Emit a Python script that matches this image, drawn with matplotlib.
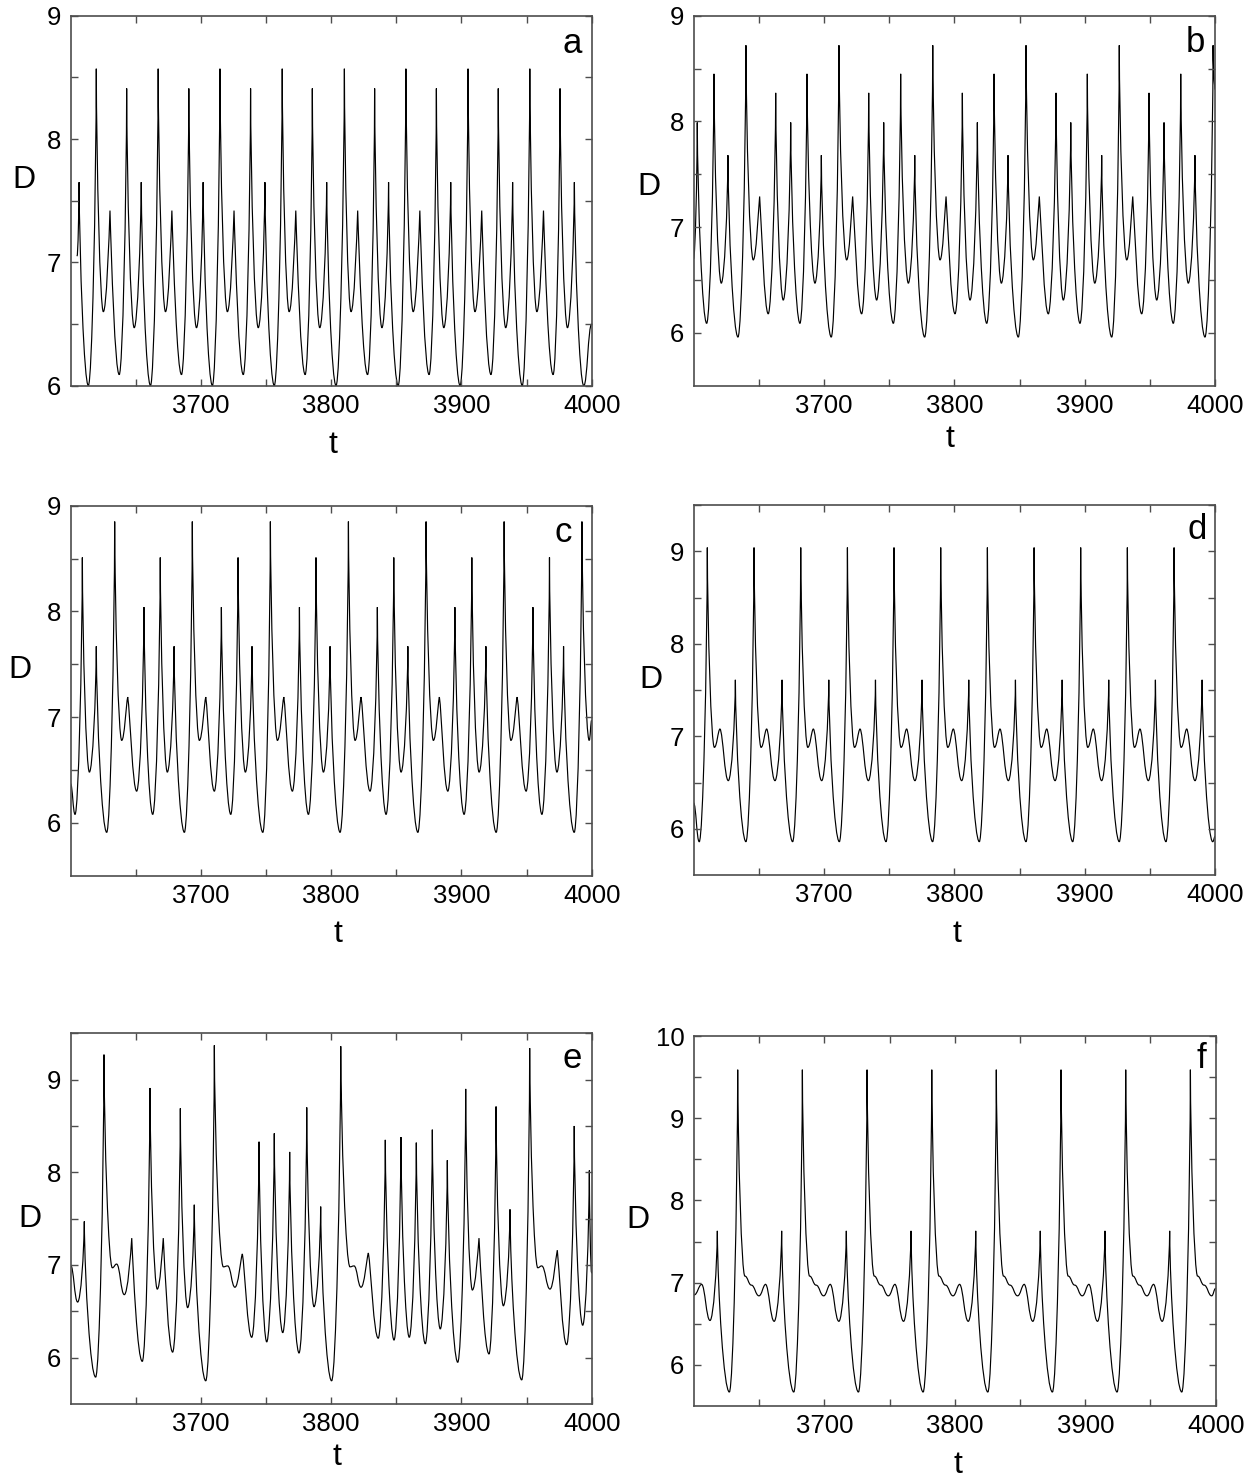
import numpy as np
import matplotlib
matplotlib.use('Agg')
from matplotlib import pyplot as plt
from matplotlib.path import Path
from matplotlib.patches import PathPatch
from matplotlib.ticker import FixedLocator

plt.rcParams['font.family'] = ['Liberation Sans', 'DejaVu Sans']

# turning points (t, D)
t_a = [3605.0, 3606.6, 3613.7, 3619.8, 3625.2, 3630.3, 3637.4, 3643.1, 3648.9, 3654.3,
       3661.4, 3667.3, 3672.9, 3677.8, 3685.2, 3690.8, 3696.7, 3701.8, 3708.9, 3714.7,
       3720.4, 3725.5, 3732.6, 3738.2, 3744.1, 3749.2, 3756.4, 3762.5, 3767.8, 3772.9,
       3780.1, 3785.6, 3791.3, 3796.6, 3803.8, 3810.2, 3815.3, 3820.4, 3828.0, 3833.4,
       3839.0, 3844.1, 3851.5, 3857.4, 3863.0, 3868.1, 3875.2, 3880.8, 3886.5, 3891.8,
       3899.0, 3905.1, 3910.4, 3915.6, 3922.7, 3928.3, 3934.0, 3939.3, 3946.7, 3952.5,
       3957.9, 3963.0, 3970.4, 3975.7, 3981.4, 3986.7, 3993.9, 4000.0]
D_a = [7.05,
       7.65, 6.0, 8.57, 6.6, 7.42, 6.09, 8.41, 6.47,
       7.65, 6.0, 8.57, 6.6, 7.42, 6.09, 8.41, 6.47,
       7.65, 6.0, 8.57, 6.6, 7.42, 6.09, 8.41, 6.47,
       7.65, 6.0, 8.57, 6.6, 7.42, 6.09, 8.41, 6.47,
       7.65, 6.0, 8.57, 6.6, 7.42, 6.09, 8.41, 6.47,
       7.65, 6.0, 8.57, 6.6, 7.42, 6.09, 8.41, 6.47,
       7.65, 6.0, 8.57, 6.6, 7.42, 6.09, 8.41, 6.47,
       7.65, 6.0, 8.57, 6.6, 7.42, 6.09, 8.41, 6.47,
       7.65, 6.0, 6.5]

t_b = [3600.0, 3602.9, 3610.1, 3615.7, 3621.3, 3626.4, 3634.1, 3640.2, 3645.8, 3650.7,
       3657.3, 3663.0, 3668.8, 3674.5, 3681.6, 3687.0, 3693.1, 3698.0, 3705.6, 3711.5,
       3717.4, 3722.0, 3728.9, 3734.3, 3740.4, 3745.8, 3753.2, 3758.8, 3764.7, 3769.6,
       3777.2, 3783.4, 3789.0, 3793.6, 3800.5, 3806.1, 3812.0, 3817.6, 3824.8, 3830.4,
       3836.0, 3841.1, 3849.0, 3854.9, 3860.5, 3865.1, 3872.0, 3877.9, 3883.5, 3889.2,
       3896.3, 3901.9, 3907.6, 3912.9, 3920.6, 3926.4, 3932.1, 3936.7, 3943.6, 3949.2,
       3955.1, 3960.7, 3967.8, 3973.5, 3979.3, 3984.4, 3992.1, 3998.3, 4000.0]
D_b = [6.7,
       7.99, 6.09, 8.45, 6.47, 7.68, 5.96, 8.72, 6.69, 7.29, 6.18, 8.27, 6.31,
       7.99, 6.09, 8.45, 6.47, 7.68, 5.96, 8.72, 6.69, 7.29, 6.18, 8.27, 6.31,
       7.99, 6.09, 8.45, 6.47, 7.68, 5.96, 8.72, 6.69, 7.29, 6.18, 8.27, 6.31,
       7.99, 6.09, 8.45, 6.47, 7.68, 5.96, 8.72, 6.69, 7.29, 6.18, 8.27, 6.31,
       7.99, 6.09, 8.45, 6.47, 7.68, 5.96, 8.72, 6.69, 7.29, 6.18, 8.27, 6.31,
       7.99, 6.09, 8.45, 6.47, 7.68, 5.96, 8.72,
       8.3]

t_c = [3600.0, 3603.5, 3609.1, 3614.5, 3619.8, 3627.8, 3633.9, 3639.3, 3643.9, 3650.8,
       3656.4, 3663.1, 3668.9, 3674.3, 3679.5, 3687.4, 3693.5, 3698.9, 3703.8, 3710.4,
       3715.8, 3723.0, 3728.6, 3734.2, 3739.3, 3747.6, 3753.4, 3758.8, 3763.7, 3770.3,
       3775.7, 3782.6, 3788.4, 3794.1, 3799.2, 3806.9, 3813.3, 3818.4, 3823.0, 3829.9,
       3835.5, 3842.2, 3848.1, 3853.7, 3858.9, 3866.6, 3872.9, 3878.5, 3883.1, 3889.6,
       3895.0, 3902.1, 3908.0, 3913.6, 3918.8, 3926.7, 3932.8, 3938.0, 3942.8, 3949.7,
       3954.9, 3961.8, 3967.6, 3973.3, 3978.4, 3986.6, 3992.5, 3998.1, 4000.0]
D_c = [6.37, 6.08,
       8.51, 6.48, 7.67, 5.91, 8.85, 6.78, 7.19, 6.30, 8.04, 6.08,
       8.51, 6.48, 7.67, 5.91, 8.85, 6.78, 7.19, 6.30, 8.04, 6.08,
       8.51, 6.48, 7.67, 5.91, 8.85, 6.78, 7.19, 6.30, 8.04, 6.08,
       8.51, 6.48, 7.67, 5.91, 8.85, 6.78, 7.19, 6.30, 8.04, 6.08,
       8.51, 6.48, 7.67, 5.91, 8.85, 6.78, 7.19, 6.30, 8.04, 6.08,
       8.51, 6.48, 7.67, 5.91, 8.85, 6.78, 7.19, 6.30, 8.04, 6.08,
       8.51, 6.48, 7.67, 5.91, 8.85, 6.78,
       6.97]

t_d = [3600.0,
       3604.4, 3610.6, 3616.0, 3620.3, 3626.7, 3632.1,
       3640.2, 3646.4, 3651.8, 3656.1, 3662.5, 3667.9,
       3676.0, 3682.2, 3687.6, 3691.9, 3698.3, 3703.7,
       3711.8, 3718.0, 3723.4, 3727.7, 3734.1, 3739.5,
       3747.6, 3753.7, 3759.1, 3763.4, 3769.8, 3775.2,
       3783.3, 3789.5, 3794.9, 3799.2, 3805.6, 3811.0,
       3819.1, 3825.3, 3830.7, 3835.0, 3841.4, 3846.8,
       3854.9, 3861.1, 3866.5, 3870.8, 3877.2, 3882.6,
       3890.7, 3896.8, 3902.2, 3906.5, 3912.9, 3918.3,
       3926.4, 3932.6, 3938.0, 3942.3, 3948.7, 3954.1,
       3962.2, 3968.4, 3973.8, 3978.1, 3984.5, 3989.9,
       3998.0, 4000.0]
D_d = [6.28,
       5.86, 9.04, 6.88, 7.08, 6.52, 7.61,
       5.86, 9.04, 6.88, 7.08, 6.52, 7.61,
       5.86, 9.04, 6.88, 7.08, 6.52, 7.61,
       5.86, 9.04, 6.88, 7.08, 6.52, 7.61,
       5.86, 9.04, 6.88, 7.08, 6.52, 7.61,
       5.86, 9.04, 6.88, 7.08, 6.52, 7.61,
       5.86, 9.04, 6.88, 7.08, 6.52, 7.61,
       5.86, 9.04, 6.88, 7.08, 6.52, 7.61,
       5.86, 9.04, 6.88, 7.08, 6.52, 7.61,
       5.86, 9.04, 6.88, 7.08, 6.52, 7.61,
       5.86, 9.04, 6.88, 7.08, 6.52, 7.61,
       5.86, 5.92]

t_e = [3600.0, 3605.5, 3610.6, 3619.3, 3625.7, 3632.1, 3635.4, 3641.3, 3647.0, 3655.1,
       3661.0, 3666.6, 3671.2, 3678.4, 3684.3, 3689.9, 3695.0, 3703.8, 3710.4, 3717.3,
       3720.6, 3726.2, 3731.9, 3739.1, 3744.7, 3750.6, 3756.4, 3762.9, 3768.2, 3775.4,
       3781.3, 3786.9, 3792.0, 3800.4, 3807.4, 3814.5, 3817.6, 3823.0, 3828.6, 3836.2,
       3841.6, 3848.3, 3853.6, 3860.0, 3865.4, 3872.3, 3877.7, 3883.8, 3889.2, 3897.2,
       3903.3, 3908.4, 3913.5, 3921.2, 3926.6, 3932.2, 3937.3, 3946.3, 3952.4, 3958.6,
       3961.6, 3968.0, 3973.6, 3980.8, 3986.6, 3993.1, 3998.2, 4000.0]
D_e = [7.00, 6.60, 7.47, 5.79, 9.27, 6.97, 7.01, 6.68, 7.29, 5.96,
       8.91, 6.74, 7.29, 6.06, 8.69, 6.54, 7.65, 5.75, 9.37, 6.98,
       6.99, 6.76, 7.12, 6.22, 8.33, 6.17, 8.42, 6.27, 8.22, 6.05,
       8.70, 6.55, 7.63, 5.75, 9.36, 6.98, 6.99, 6.76, 7.13, 6.21,
       8.35, 6.19, 8.38, 6.22, 8.32, 6.15, 8.46, 6.31, 8.13, 5.95,
       8.90, 6.73, 7.29, 6.04, 8.71, 6.56, 7.60, 5.76, 9.34, 6.97,
       6.99, 6.74, 7.16, 6.14, 8.50, 6.35, 8.02, 6.91]

t_f = [3600.0, 3605.9, 3612.3, 3617.9, 3627.1, 3633.5,
       3639.0, 3644.0, 3649.8, 3654.9, 3661.5, 3667.2, 3676.5, 3683.1,
       3688.6, 3693.6, 3699.4, 3704.5, 3711.1, 3716.8, 3726.1, 3732.7,
       3738.2, 3743.2, 3749.0, 3754.1, 3760.7, 3766.4, 3775.7, 3782.3,
       3787.8, 3792.8, 3798.6, 3803.7, 3810.3, 3816.0, 3825.3, 3831.8,
       3837.3, 3842.3, 3848.1, 3853.2, 3859.8, 3865.5, 3874.8, 3881.4,
       3886.9, 3891.9, 3897.7, 3902.8, 3909.4, 3915.1, 3924.4, 3931.0,
       3936.5, 3941.5, 3947.3, 3952.4, 3959.0, 3964.7, 3974.0, 3980.6,
       3986.1, 3991.1, 3996.9, 4000.0]
D_f = [6.85, 6.98, 6.54, 7.63, 5.67, 9.59,
       7.08, 6.97, 6.84, 6.98, 6.53, 7.63, 5.67, 9.59,
       7.08, 6.97, 6.84, 6.98, 6.53, 7.63, 5.67, 9.59,
       7.08, 6.97, 6.84, 6.98, 6.53, 7.63, 5.67, 9.59,
       7.08, 6.97, 6.84, 6.98, 6.53, 7.63, 5.67, 9.59,
       7.08, 6.97, 6.84, 6.98, 6.53, 7.63, 5.67, 9.59,
       7.08, 6.97, 6.84, 6.98, 6.53, 7.63, 5.67, 9.59,
       7.08, 6.97, 6.84, 6.98, 6.53, 7.63, 5.67, 9.59,
       7.08, 6.97, 6.84, 6.93]

panel_labels = ['a', 'b', 'c', 'd', 'e', 'f']
x_ticks = [3700, 3800, 3900, 4000]
x_minor = [3650, 3750, 3850, 3950]
y_limits = [(6, 9), (5.5, 9), (5.5, 9), (5.5, 9.5), (5.5, 9.5), (5.5, 10)]
y_ticks = [[6, 7, 8, 9], [6, 7, 8, 9], [6, 7, 8, 9], [6, 7, 8, 9], [6, 7, 8, 9], [6, 7, 8, 9, 10]]


def sharpness(d, i):
    # how spiky a local maximum is (0 = round bump, 1 = narrow spike)
    if i == 0 or i == len(d) - 1:
        return 0.0
    if d[i] < d[i-1] or d[i] < d[i+1]:
        return 0.0
    amp = d[i] - min(d[i-1], d[i+1])
    return float(np.clip((amp - 0.3) / 1.4, 0, 1))


def trace(t, d):
    r'''
Build a bezier path through the turning points: round troughs, sharp spikes
    '''
    assert len(t) == len(d)
    s = [sharpness(d, i) for i in range(len(d))]
    verts = [(t[0], d[0])]
    codes = [Path.MOVETO]
    for i in range(len(t) - 1):
        t0, d0, t1, d1 = t[i], d[i], t[i+1], d[i+1]
        dt, dy = t1 - t0, d1 - d0
        r0 = 0.45 * (1 - s[i]) + 0.04 * s[i]
        r1 = 0.45 * (1 - s[i+1]) + 0.04 * s[i+1]
        c1 = (t0 + r0 * dt, d0 + 0.4 * s[i] * dy)
        c2 = (t1 - r1 * dt, d1 - 0.4 * s[i+1] * dy)
        verts += [c1, c2, (t1, d1)]
        codes += [Path.CURVE4] * 3
    return Path(verts, codes)


series = [(t_a, D_a), (t_b, D_b), (t_c, D_c), (t_d, D_d), (t_e, D_e), (t_f, D_f)]

W, H = 1257, 1479
# axes frames in pixels: left, top, right, bottom
frames = [(70.5, 15.7, 591.7, 385.7), (693.5, 15.7, 1215.3, 385.7),
          (70.5, 505.7, 591.7, 875.7), (693.5, 505.0, 1215.3, 875.0),
          (70.5, 1033.3, 591.7, 1404.0), (694.0, 1036.0, 1215.7, 1406.0)]
D_pos = [(24, 188), (649, 195), (20, 678), (651, 688), (30, 1227), (638, 1228)]
t_pos = [(333, 453), (950, 447), (338, 942), (957, 942), (337, 1465), (958, 1473)]
letter_pos = [(0.962, 0.898), (0.962, 0.903), (0.946, 0.903), (0.965, 0.907), (0.963, 0.906), (0.973, 0.913)]

fig = plt.figure(figsize=(W/100, H/100), dpi=100)
for k, (t, d) in enumerate(series):
    l, tp, r, b = frames[k]
    ax = fig.add_axes([l/W, 1 - b/H, (r - l)/W, (b - tp)/H])
    ax.add_patch(PathPatch(trace(t, d), facecolor='none', edgecolor='black', lw=0.85))
    ax.set_xlim(3600, 4000)
    ax.set_ylim(*y_limits[k])
    ax.xaxis.set_major_locator(FixedLocator(x_ticks))
    ax.xaxis.set_minor_locator(FixedLocator(x_minor))
    ax.yaxis.set_major_locator(FixedLocator(y_ticks[k]))
    ax.yaxis.set_minor_locator(FixedLocator([v + 0.5 for v in y_ticks[k]]))
    ax.tick_params(which='both', direction='in', top=True, right=True, length=5, width=1, color='0.3')
    ax.tick_params(axis='x', labelsize=18.5, pad=6)
    ax.tick_params(axis='y', labelsize=18.5, pad=7)
    for sp in ax.spines.values():
        sp.set_color('0.3')
        sp.set_linewidth(1.2)
    ax.text(*letter_pos[k], panel_labels[k], transform=ax.transAxes, fontsize=25, ha='center', va='baseline')
    fig.text(D_pos[k][0]/W, 1 - D_pos[k][1]/H, 'D', fontsize=23, ha='center', va='baseline')
    fig.text(t_pos[k][0]/W, 1 - t_pos[k][1]/H, 't', fontsize=23, ha='center', va='baseline')

fig.savefig('out.png', dpi=100)
